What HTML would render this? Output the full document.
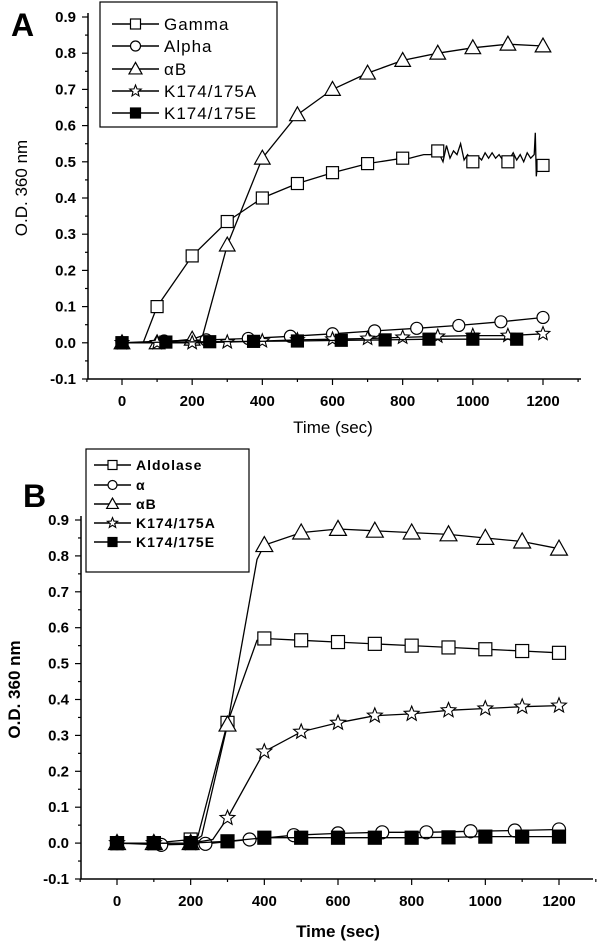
<!DOCTYPE html>
<html><head><meta charset="utf-8"><style>
body{margin:0;background:#fff;}
svg{display:block;font-family:"Liberation Sans",Arial,sans-serif;}
</style></head><body>
<svg id="chart" width="600" height="943" viewBox="0 0 600 943" xmlns="http://www.w3.org/2000/svg">
<text x="11" y="36" font-size="32" font-weight="bold">A</text>
<text x="23" y="507" font-size="32" font-weight="bold">B</text>
<g id="pa"></g>
<g id="pb"></g>
</svg>
<script>
const yTicks=[-0.1,0,0.1,0.2,0.3,0.4,0.5,0.6,0.7,0.8,0.9];
const yTickLabels=["-0.1","0.0","0.1","0.2","0.3","0.4","0.5","0.6","0.7","0.8","0.9"];
const xTicks=[0,200,400,600,800,1000,1200];
const xTickLabels=["0","200","400","600","800","1000","1200"];

// Panel A
const aGammaX=[0,60,100,200,300,400,500,600,700,800,820,840,860,880,900,915,925,935,945,955,965,975,985,1000,1015,1025,1035,1045,1055,1065,1075,1085,1100,1115,1125,1135,1145,1155,1165,1175,1178,1181,1185,1195,1200];
const aGammaY=[0,0,0.10,0.24,0.335,0.40,0.44,0.47,0.495,0.51,0.51,0.515,0.52,0.52,0.53,0.50,0.545,0.51,0.53,0.52,0.55,0.505,0.52,0.50,0.515,0.505,0.525,0.51,0.525,0.51,0.52,0.505,0.50,0.525,0.505,0.52,0.50,0.525,0.51,0.52,0.58,0.46,0.50,0.49,0.49];
const aGammaMk=[0,100,200,300,400,500,600,700,800,900,1000,1100,1200];
const aAlphaX=[0,120,240,360,480,600,720,840,960,1080,1200];
const aAlphaY=[0,0.005,0.008,0.012,0.018,0.025,0.033,0.04,0.048,0.058,0.07];
const aBX=[0,100,200,230,300,400,500,600,700,800,900,1000,1100,1200];
const aBY=[0,0,0.01,0.02,0.27,0.51,0.63,0.70,0.745,0.78,0.80,0.815,0.825,0.82];
const aBMk=[0,100,200,300,400,500,600,700,800,900,1000,1100,1200];
const aKAX=[0,100,200,300,400,500,600,700,800,900,1000,1100,1200];
const aKAY=[0,0,0,0.002,0.005,0.008,0.01,0.012,0.015,0.018,0.02,0.02,0.025];
const aKEX=[0,125,250,375,500,625,750,875,1000,1125];
const aKEY=[0,0.002,0.003,0.004,0.005,0.007,0.008,0.01,0.01,0.01];
const aNames=["Gamma","Alpha","\u03b1B","K174/175A","K174/175E"];

// Panel B
const bAldX=[0,100,200,220,300,380,400,500,600,700,800,900,1000,1100,1200];
const bAldY=[0,0,0.01,0.02,0.335,0.565,0.57,0.565,0.56,0.555,0.55,0.545,0.54,0.535,0.53];
const bAldMk=[0,100,200,300,400,500,600,700,800,900,1000,1100,1200];
const bAlphaX=[0,120,240,360,480,600,720,840,960,1080,1200];
const bAlphaY=[0,-0.005,-0.002,0.01,0.022,0.027,0.03,0.03,0.033,0.035,0.038];
const bBX=[0,100,200,230,300,380,400,500,600,700,800,900,1000,1100,1200];
const bBY=[0,0,0,0.02,0.33,0.79,0.83,0.865,0.875,0.87,0.865,0.86,0.85,0.84,0.82];
const bBMk=[0,100,200,300,400,500,600,700,800,900,1000,1100,1200];
const bKAX=[0,100,200,260,300,400,500,600,700,800,900,1000,1100,1200];
const bKAY=[0,0,0,0.01,0.07,0.255,0.31,0.335,0.355,0.36,0.37,0.375,0.38,0.383];
const bKAMk=[0,100,200,300,400,500,600,700,800,900,1000,1100,1200];
const bKEX=[0,100,200,300,400,500,600,700,800,900,1000,1100,1200];
const bKEY=[0,0,0,0.005,0.015,0.015,0.015,0.015,0.015,0.016,0.018,0.018,0.018];
const bNames=["Aldolase","\u03b1","\u03b1B","K174/175A","K174/175E"];

const NS="http://www.w3.org/2000/svg";
function mk(tag,at,parent){const e=document.createElementNS(NS,tag);for(const k in at)e.setAttribute(k,at[k]);parent.appendChild(e);return e;}
function interp(xs,ys,x){for(let i=0;i<xs.length-1;i++){if(x>=xs[i]&&x<=xs[i+1]){const t=(x-xs[i])/(xs[i+1]-xs[i]||1);return ys[i]+t*(ys[i+1]-ys[i]);}}return ys[ys.length-1];}

function marker(g,type,cx,cy,s){
  let e;
  if(type==="sq"||type==="fsq"){e=mk("rect",{x:cx-s/2,y:cy-s/2,width:s,height:s,fill:type==="fsq"?"#000":"#fff",stroke:"#000","stroke-width":1.2},g);}
  else if(type==="ci"){e=mk("circle",{cx:cx,cy:cy,r:s/2,fill:"#fff",stroke:"#000","stroke-width":1.2},g);}
  else if(type==="tr"){const w=s*1.3,h=s*1.1;e=mk("polygon",{points:`${cx},${cy-h*0.6} ${cx-w/2},${cy+h*0.45} ${cx+w/2},${cy+h*0.45}`,fill:"#fff",stroke:"#000","stroke-width":1.2},g);}
  else {let p=[];for(let i=0;i<10;i++){const r=i%2?s*0.26:s*0.6;const a=-Math.PI/2+i*Math.PI/5;p.push((cx+r*Math.cos(a)).toFixed(1)+","+(cy+r*Math.sin(a)).toFixed(1));}
    e=mk("polygon",{points:p.join(" "),fill:"#fff",stroke:"#000","stroke-width":1.1},g);}
  
  
  return e;
}

function panel(gid,P){
  const g=document.getElementById(gid);
  const sx=v=>P.x0+(v/1200)*(P.x1200-P.x0);
  const sy=v=>P.y09+(0.9-v)/1.0*(P.ym01-P.y09);
  const fw=P.bold?"bold":"normal";
  const ax=mk("path",{d:`M${P.ax},${P.y09-4} V${P.ym01} H${P.axEnd}`,fill:"none",stroke:"#000","stroke-width":1.5},g);
  
  
  for(let k=-2;k<=18;k++){const v=k*0.05;const y=sy(v);const major=k%2===0;
    mk("line",{x1:P.ax-(major?6:3),x2:P.ax,y1:y,y2:y,stroke:"#000","stroke-width":1.2},g);}
  yTicks.forEach((v,i)=>{const t=mk("text",{x:P.ax-12,y:sy(v)+5,"text-anchor":"end","font-size":15,"font-weight":"bold"},g);t.textContent=yTickLabels[i];
    
    });
  for(let v=-100;v<=1300;v+=100){const x=sx(v);const major=v%200===0;
    mk("line",{x1:x,x2:x,y1:P.ym01,y2:P.ym01+(major?6:3),stroke:"#000","stroke-width":1.2},g);}
  xTicks.forEach((v,i)=>{const t=mk("text",{x:sx(v),y:P.ym01+27,"text-anchor":"middle","font-size":15,"font-weight":"bold"},g);t.textContent=xTickLabels[i];
    
    });
  const xt=mk("text",{x:P.xtx,y:P.xty,"text-anchor":"middle","font-size":17,"font-weight":fw},g);xt.textContent="Time (sec)";
  
  
  const yc=(P.y09+P.ym01)/2-10;
  const yt=mk("text",{x:P.ylx,y:yc,"text-anchor":"middle","font-size":17,"font-weight":fw,transform:`rotate(-90 ${P.ylx} ${yc})`},g);yt.textContent="O.D. 360 nm";
  
  
  P.series.forEach(s=>{
    const sg=mk("g",{},g);
    
    
    let d="";
    s.xs.forEach((x,i)=>{d+=(i?"L":"M")+sx(x).toFixed(1)+","+sy(s.ys[i]).toFixed(1);});
    mk("path",{d:d,fill:"none",stroke:"#000","stroke-width":1.3},sg);
    const mx=s.mk||s.xs;
    mx.forEach(x=>marker(sg,s.type,sx(x),sy(interp(s.xs,s.ys,x)),P.ms));
  });
  const L=P.leg;
  const lb=mk("rect",{x:L.x,y:L.y,width:L.w,height:L.h,fill:"#fff",stroke:"#000","stroke-width":1.2},g);
  
  
  P.series.forEach((s,i)=>{
    const y=L.rows[i];
    const lg=mk("g",{},g);
    
    
    mk("line",{x1:L.lx1,x2:L.lx2,y1:y,y2:y,stroke:"#000","stroke-width":1.4},lg);
    marker(lg,s.type,(L.lx1+L.lx2)/2,y,L.ms);
    const t=mk("text",{x:L.lx2+5,y:y+L.fs*0.36,"font-size":L.fs,"font-weight":fw,"letter-spacing":L.ls},lg);t.textContent=P.names[i];
  });
}

panel("pa",{x0:122,x1200:543,y09:17,ym01:379,ax:88,axEnd:581,ylx:27,xtx:333,xty:433,bold:false,ms:12,names:aNames,
  series:[{key:"gamma",type:"sq",xs:aGammaX,ys:aGammaY,mk:aGammaMk},
          {key:"alpha",type:"ci",xs:aAlphaX,ys:aAlphaY},
          {key:"alphaB",type:"tr",xs:aBX,ys:aBY,mk:aBMk},
          {key:"k174a",type:"st",xs:aKAX,ys:aKAY},
          {key:"k174e",type:"fsq",xs:aKEX,ys:aKEY}],
  leg:{x:100,y:2,w:177,h:125,rows:[24,46,69,91,113],lx1:112,lx2:159,fs:17,ms:10,ls:1}});

panel("pb",{x0:117,x1200:559,y09:520,ym01:879,ax:81,axEnd:593,ylx:20,xtx:338,xty:937,bold:true,ms:13,names:bNames,
  series:[{key:"aldolase",type:"sq",xs:bAldX,ys:bAldY,mk:bAldMk},
          {key:"alpha",type:"ci",xs:bAlphaX,ys:bAlphaY},
          {key:"alphaB",type:"tr",xs:bBX,ys:bBY,mk:bBMk},
          {key:"k174a",type:"st",xs:bKAX,ys:bKAY,mk:bKAMk},
          {key:"k174e",type:"fsq",xs:bKEX,ys:bKEY}],
  leg:{x:86,y:449,w:163,h:123,rows:[465,485,504,523,542],lx1:94,lx2:131,fs:14,ms:9,ls:1}});
</script>
</body></html>
